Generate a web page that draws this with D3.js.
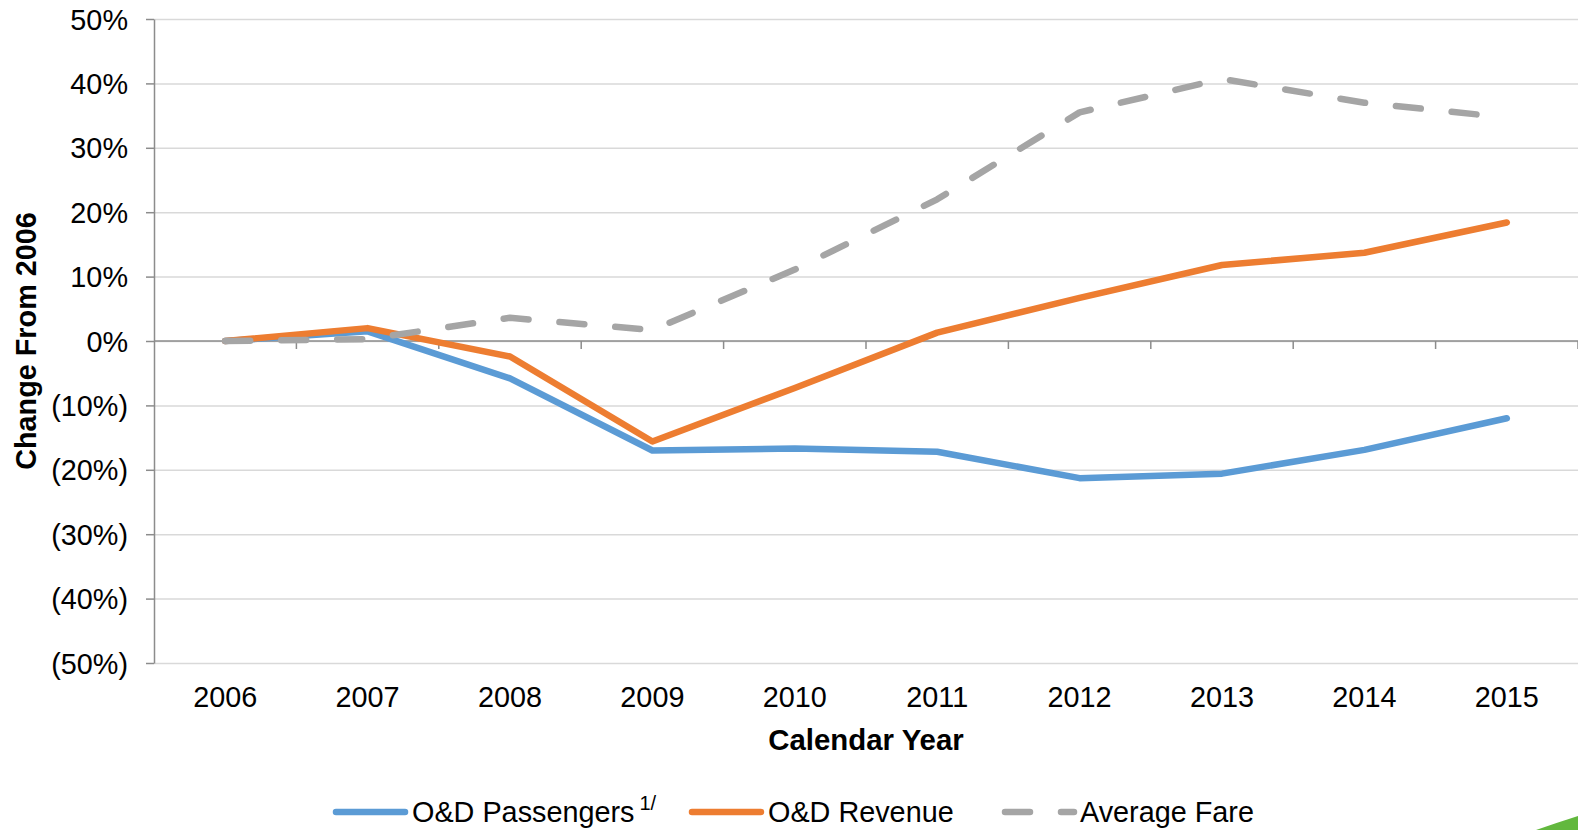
<!DOCTYPE html>
<html>
<head>
<meta charset="utf-8">
<script src="https://cdn.jsdelivr.net/npm/d3@7"></script>
<style>
  html, body { margin: 0; padding: 0; background: #ffffff; }
  svg { display: block; font-family: "Liberation Sans", Arial, sans-serif; }
</style>
</head>
<body>
<svg id="chart" width="1578" height="830"></svg>
<script>
// Calendar years on the x axis
const years = ["2006", "2007", "2008", "2009", "2010", "2011", "2012", "2013", "2014", "2015"];

// Change from 2006, as fractions
const passengers  = [0, 0.015, -0.058, -0.170, -0.167, -0.172, -0.213, -0.206, -0.169, -0.120];
const revenue     = [0, 0.020, -0.024, -0.156, -0.073, 0.013, 0.067, 0.118, 0.137, 0.184];
const averageFare = [0, 0.003, 0.036, 0.017, 0.111, 0.220, 0.355, 0.407, 0.370, 0.347];

// Value axis ticks
const yTicks = [-0.5, -0.4, -0.3, -0.2, -0.1, 0, 0.1, 0.2, 0.3, 0.4, 0.5];

const seriesNames  = ["O&D Passengers", "O&D Revenue", "Average Fare"];
const seriesColors = ["#5B9BD5", "#ED7D31", "#A5A5A5"];

const series = [
  { name: seriesNames[0], values: passengers,  color: seriesColors[0], dashed: false, note: "1/" },
  { name: seriesNames[1], values: revenue,     color: seriesColors[1], dashed: false },
  { name: seriesNames[2], values: averageFare, color: seriesColors[2], dashed: true }
];

const svg = d3.select("#chart");
const plot = { left: 154, right: 1578, top: 19, bottom: 663 };
const FONT = 28.8;
const LINE_W = 6.5;

const x = d3.scaleBand().domain(years).range([plot.left, plot.right]).padding(0);
const y = d3.scaleLinear().domain([-0.5, 0.5]).range([plot.bottom, plot.top]);
const xc = d => x(d) + x.bandwidth() / 2;

const pct = d3.format(".0%");
const fmt = v => v < 0 ? "(" + pct(-v) + ")" : pct(v);

// Horizontal gridlines
svg.append("g")
  .attr("transform", `translate(${plot.left},0)`)
  .call(d3.axisLeft(y).tickValues(yTicks).tickSize(-(plot.right - plot.left)).tickFormat(""))
  .call(g => g.select(".domain").remove())
  .call(g => g.selectAll("line").attr("stroke", "#D9D9D9").attr("stroke-width", 1.5));

// Value axis with outward ticks and labels
svg.append("g")
  .attr("transform", `translate(${plot.left},0)`)
  .call(d3.axisLeft(y).tickValues(yTicks).tickSize(8).tickSizeOuter(0).tickPadding(18).tickFormat(fmt))
  .call(g => g.select(".domain").attr("stroke", "#8C8C8C").attr("stroke-width", 1.5))
  .call(g => g.selectAll("line").attr("stroke", "#8C8C8C").attr("stroke-width", 1.5))
  .call(g => g.selectAll("text")
    .attr("font-size", FONT).attr("fill", "#000").attr("dy", "0.35em")
    .attr("font-family", "'Liberation Sans', Arial, sans-serif"));

// Category axis line at zero, ticks between years
const boundaries = years.map(d => x(d)).slice(1).concat([plot.right]);
const zeroAxis = svg.append("g");
zeroAxis.append("line")
  .attr("x1", plot.left).attr("x2", plot.right)
  .attr("y1", y(0)).attr("y2", y(0))
  .attr("stroke", "#8C8C8C").attr("stroke-width", 1.5);
zeroAxis.selectAll("line.tick")
  .data(boundaries)
  .join("line")
  .attr("class", "tick")
  .attr("x1", d => d).attr("x2", d => d)
  .attr("y1", y(0)).attr("y2", y(0) + 8)
  .attr("stroke", "#8C8C8C").attr("stroke-width", 1.5);

// Year labels below the plot
svg.append("g")
  .selectAll("text")
  .data(years)
  .join("text")
  .attr("x", d => xc(d))
  .attr("y", 697)
  .attr("dy", "0.35em")
  .attr("text-anchor", "middle")
  .attr("font-size", FONT)
  .attr("fill", "#000")
  .text(d => d);

// Axis titles
svg.append("text")
  .attr("x", 866)
  .attr("y", 740)
  .attr("dy", "0.35em")
  .attr("text-anchor", "middle")
  .attr("font-size", 29.4)
  .attr("font-weight", "bold")
  .text("Calendar Year");

svg.append("text")
  .attr("transform", `translate(26,${y(0)}) rotate(-90)`)
  .attr("dy", "0.35em")
  .attr("text-anchor", "middle")
  .attr("font-size", FONT)
  .attr("font-weight", "bold")
  .text("Change From 2006");

// Series lines
const line = d3.line()
  .x((v, i) => xc(years[i]))
  .y(v => y(v));

svg.append("g")
  .selectAll("path")
  .data(series)
  .join("path")
  .attr("d", s => line(s.values))
  .attr("fill", "none")
  .attr("stroke", s => s.color)
  .attr("stroke-width", LINE_W)
  .attr("stroke-linecap", "round")
  .attr("stroke-linejoin", "round")
  .attr("stroke-dasharray", s => s.dashed ? "25 31" : null);

// Legend
const legendX = [333, 689, 1002];
const legendY = 812;
const legend = svg.append("g")
  .selectAll("g")
  .data(series)
  .join("g")
  .attr("transform", (s, i) => `translate(${legendX[i]},${legendY})`);

legend.append("line")
  .attr("x1", 3).attr("x2", 72)
  .attr("y1", 0).attr("y2", 0)
  .attr("stroke", s => s.color)
  .attr("stroke-width", LINE_W)
  .attr("stroke-linecap", "round")
  .attr("stroke-dasharray", s => s.dashed ? "25 31" : null);

const legendText = legend.append("text")
  .attr("x", s => s.dashed ? 78 : 79)
  .attr("y", 0)
  .attr("dy", "0.35em")
  .attr("font-size", FONT)
  .attr("fill", "#000");
legendText.append("tspan").text(s => s.name);
legendText.filter(s => s.note)
  .append("tspan")
  .attr("dx", 5)
  .attr("dy", -12)
  .attr("font-size", 20)
  .text(s => s.note);

// Corner accent
svg.append("path")
  .attr("d", "M1536,830 Q1556,823 1578,816 L1578,830 Z")
  .attr("fill", "#62B83E");
</script>
</body>
</html>
